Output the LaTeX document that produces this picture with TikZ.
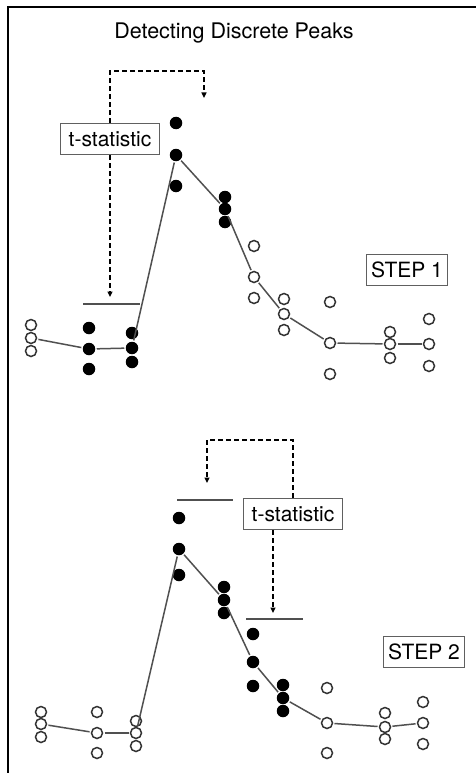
\documentclass[tikz,border=0pt]{standalone}
\usepackage{fontspec}
\setmainfont{TeX Gyre Heros}
\usepackage{tikz}
\usetikzlibrary{arrows.meta, positioning, calc}
\definecolor{dotBorder}{HTML}{333333}
\definecolor{linkGray}{HTML}{505050}
\definecolor{boxBorder}{HTML}{606060}

\begin{document}
\begin{tikzpicture}[
  x=1pt, y=-1pt,
  opendot/.style={circle, draw=dotBorder, line width=1.5pt, minimum size=11pt, inner sep=0pt, outer sep=2pt},
  fulldot/.style={circle, fill=black, minimum size=12.5pt, inner sep=0pt, outer sep=1.5pt},
  link/.style={draw=linkGray, line width=1.5pt},
  level/.style={draw=linkGray, line width=1.6pt},
  dasharrow/.style={-{Triangle[length=5.5pt, width=5pt]}, line width=2pt, dash pattern=on 5pt off 3pt},
  labelbox/.style={rectangle, draw=boxBorder, line width=1.1pt, minimum height=31pt, inner xsep=8pt, font=\fontsize{21}{24}\selectfont}
]
  \useasboundingbox (0,0) rectangle (476,773);
  % Frame
  \draw[line width=2pt] (476,7.5) -- (7.5,7.5) -- (7.5,773);

  % Title
  \node (title) at (234,33) [font=\fontsize{21.5}{24}\selectfont] {Detecting Discrete Peaks};

  % Step 1 samples
  \foreach \n/\x/\ya/\yb/\yc/\s in {p1/31/325/338/351/opendot, p2/89/328/349/369/fulldot,
      p3/132/333/348/362/fulldot, p4/176/123/155/186/fulldot, p5/225/197/209/222/fulldot,
      p6/254/246/277/298/opendot, p7/284/299/314/330/opendot, p8/330/302/343/374/opendot,
      p9/390/332/344/358/opendot, p10/429/319/344/366/opendot}{
    \node[\s] (\n-t) at (\x,\ya) {};
    \node[\s] (\n-m) at (\x,\yb) {};
    \node[\s] (\n-b) at (\x,\yc) {};
  }
  \foreach \a/\b in {p1/p2, p2/p3, p3/p4, p4/p5, p5/p6, p6/p7, p7/p8, p8/p9, p9/p10}
    \draw[link] (\a-m) -- (\b-m);

  \node (tstatA) at (110,139) [labelbox] {t-statistic};
  \node (stepA) at (407,270) [labelbox, inner xsep=5pt] {STEP 1};

  \coordinate (turnA) at (204,71);
  \coordinate (tipA) at (204,98);
  \coordinate (tipAb) at (110,297);
  \coordinate (barAl) at (83,304);
  \coordinate (barAr) at (140,304);
  \draw[dasharrow] (tstatA.north) |- (turnA) -- (tipA);
  \draw[dasharrow] (tstatA.south) -- (tipAb);
  \draw[level] (barAl) -- (barAr);

  % Step 2 samples
  \foreach \n/\x/\ya/\yb/\yc/\s in {q1/41/712/724/737/opendot, q2/97/712/733/753/opendot,
      q3/136/721/733/746/opendot, q4/179/518/549/575/fulldot, q5/224/587/600/613/fulldot,
      q6/253/634/662/686/fulldot, q7/283/685/698/711/fulldot, q8/327/688/723/753/opendot,
      q9/385/713/727/739/opendot, q10/423/702/723/744/opendot}{
    \node[\s] (\n-t) at (\x,\ya) {};
    \node[\s] (\n-m) at (\x,\yb) {};
    \node[\s] (\n-b) at (\x,\yc) {};
  }
  \foreach \a/\b in {q1/q2, q2/q3, q3/q4, q4/q5, q5/q6, q6/q7, q7/q8, q8/q9, q9/q10}
    \draw[link] (\a-m) -- (\b-m);

  \node (tstatB) at (293,514) [labelbox] {t-statistic};
  \node (stepB) at (424,652) [labelbox, inner xsep=5pt] {STEP 2};

  \coordinate (turnB) at (207,440);
  \coordinate (tipB) at (207,483);
  \coordinate (tipBb) at (273,613);
  \coordinate (barBl) at (177,500);
  \coordinate (barBr) at (233,500);
  \coordinate (barCl) at (246,619);
  \coordinate (barCr) at (303,619);
  \draw[dasharrow] (tstatB.north) |- (turnB) -- (tipB);
  \draw[dasharrow] (tstatB.south -| tipBb) -- (tipBb);
  \draw[level] (barBl) -- (barBr);
  \draw[level] (barCl) -- (barCr);
\end{tikzpicture}
\end{document}
